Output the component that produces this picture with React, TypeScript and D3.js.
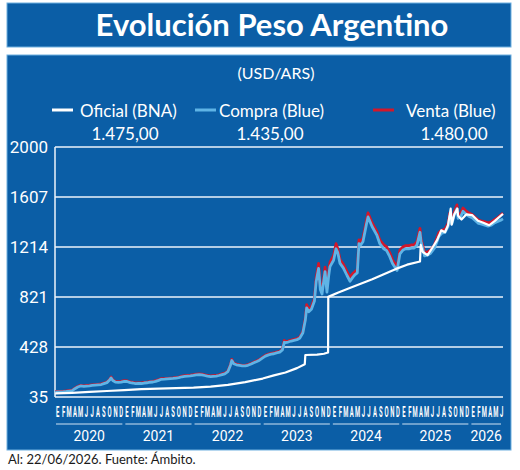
import * as d3 from "d3";

// --- data ---
const yTicks = [35, 428, 821, 1214, 1607, 2000];
const monthLetters = ["E", "F", "M", "A", "M", "J", "J", "A", "S", "O", "N", "D"];
const years = [2020, 2021, 2022, 2023, 2024, 2025, 2026];
const legendNames = ["Oficial (BNA)", "Compra (Blue)", "Venta (Blue)"];
const legendLast = ["1.475,00", "1.435,00", "1.480,00"];

const oficialDates = [
  "2020-01-02", "2020-04-01", "2020-07-01", "2020-10-01", "2021-01-01", "2021-04-01",
  "2021-07-01", "2021-10-01", "2022-01-01", "2022-04-01", "2022-07-01", "2022-10-01",
  "2023-01-01", "2023-03-01", "2023-05-01", "2023-07-01", "2023-08-11", "2023-08-14",
  "2023-10-15", "2023-11-20", "2023-12-12", "2023-12-13", "2024-02-01", "2024-04-01",
  "2024-06-01", "2024-08-01", "2024-10-01", "2024-12-01", "2025-02-01", "2025-04-10",
  "2025-04-14", "2025-04-25", "2025-05-20", "2025-06-15", "2025-07-10", "2025-07-31",
  "2025-08-20", "2025-09-05", "2025-09-19", "2025-09-24", "2025-10-08", "2025-10-24",
  "2025-10-28", "2025-11-15", "2025-12-10", "2026-01-10", "2026-02-10", "2026-03-10",
  "2026-04-10", "2026-05-10", "2026-06-22",
];
const oficialValues = [
  63, 68, 76, 82, 89, 97,
  101, 104, 108, 117, 130, 152,
  180, 205, 228, 262, 292, 365,
  368, 375, 385, 822, 855, 890,
  925, 960, 1000, 1040, 1075, 1100,
  1230, 1175, 1150, 1210, 1270, 1345,
  1330, 1385, 1515, 1390, 1470, 1515,
  1460, 1430, 1470, 1465, 1420, 1405,
  1385, 1420, 1475,
];

const blueDates = [
  "2020-01-02", "2020-01-15", "2020-02-01", "2020-02-15", "2020-03-01", "2020-03-15",
  "2020-04-01", "2020-04-15", "2020-04-30", "2020-05-15", "2020-06-01", "2020-06-15",
  "2020-07-01", "2020-07-15", "2020-08-01", "2020-08-15", "2020-09-01", "2020-09-15",
  "2020-10-01", "2020-10-15", "2020-10-23", "2020-11-01", "2020-11-15", "2020-12-01",
  "2020-12-15", "2021-01-01", "2021-01-15", "2021-02-01", "2021-02-15", "2021-03-01",
  "2021-03-15", "2021-04-01", "2021-04-15", "2021-05-01", "2021-05-15", "2021-06-01",
  "2021-06-15", "2021-07-01", "2021-07-15", "2021-08-01", "2021-08-15", "2021-09-01",
  "2021-09-15", "2021-10-01", "2021-10-15", "2021-11-01", "2021-11-15", "2021-12-01",
  "2021-12-15", "2022-01-01", "2022-01-15", "2022-02-01", "2022-02-15", "2022-03-01",
  "2022-03-15", "2022-04-01", "2022-04-15", "2022-05-01", "2022-05-15", "2022-06-01",
  "2022-06-15", "2022-07-01", "2022-07-15", "2022-07-22", "2022-08-01", "2022-08-15",
  "2022-09-01", "2022-09-15", "2022-10-01", "2022-10-15", "2022-11-01", "2022-11-15",
  "2022-12-01", "2022-12-15", "2023-01-01", "2023-01-15", "2023-02-01", "2023-02-15",
  "2023-03-01", "2023-03-15", "2023-04-01", "2023-04-15", "2023-04-25", "2023-05-01",
  "2023-05-15", "2023-06-01", "2023-06-15", "2023-07-01", "2023-07-15", "2023-08-01",
  "2023-08-14", "2023-08-21", "2023-09-01", "2023-09-15", "2023-10-01", "2023-10-10",
  "2023-10-23", "2023-11-01", "2023-11-10", "2023-11-26", "2023-12-06", "2023-12-15",
  "2023-12-22", "2024-01-10", "2024-01-23", "2024-02-01", "2024-02-13", "2024-03-01",
  "2024-03-21", "2024-04-06", "2024-04-20", "2024-05-01", "2024-05-14", "2024-05-23",
  "2024-06-01", "2024-06-13", "2024-07-01", "2024-07-10", "2024-07-31", "2024-08-26",
  "2024-09-10", "2024-10-01", "2024-10-16", "2024-11-01", "2024-11-16", "2024-12-10",
  "2024-12-25", "2025-01-10", "2025-01-25", "2025-02-10", "2025-02-25", "2025-03-10",
  "2025-03-25", "2025-04-10", "2025-04-16", "2025-05-04", "2025-05-20", "2025-06-05",
  "2025-06-25", "2025-07-18", "2025-08-01", "2025-08-20", "2025-09-05", "2025-09-14",
  "2025-09-25", "2025-10-08", "2025-10-22", "2025-10-28", "2025-11-10", "2025-11-23",
  "2025-12-10", "2025-12-25", "2026-01-10", "2026-01-25", "2026-02-13", "2026-02-25",
  "2026-03-10", "2026-04-04", "2026-04-20", "2026-05-10", "2026-05-25", "2026-06-10",
  "2026-06-22",
];
const compraValues = [
  74, 75, 76, 77, 79, 82,
  85, 100, 113, 122, 118, 121,
  123, 126, 128, 130, 133, 140,
  148, 168, 185, 165, 152, 150,
  152, 158, 157, 148, 145, 140,
  141, 141, 145, 147, 151, 153,
  158, 166, 174, 175, 177, 179,
  181, 184, 187, 194, 197, 199,
  201, 205, 209, 211, 209, 204,
  199, 195, 197, 199, 204, 211,
  217, 234, 285, 322, 296, 288,
  283, 279, 279, 284, 294, 304,
  314, 324, 342, 356, 366, 372,
  375, 382, 388, 405, 465, 462,
  467, 475, 480, 486, 496, 540,
  640, 735, 705, 725, 790, 940,
  1045, 880, 845, 1020, 860, 985,
  1060, 1110, 1200, 1170, 1085, 1050,
  990, 945, 975, 995, 1010, 1240,
  1230, 1255, 1390, 1450, 1375, 1305,
  1240, 1200, 1185, 1140, 1085, 1030,
  1160, 1190, 1200, 1200, 1205, 1205,
  1230, 1330, 1250, 1145, 1150, 1165,
  1205, 1295, 1320, 1330, 1375, 1455,
  1395, 1465, 1515, 1440, 1450, 1495,
  1470, 1455, 1445, 1425, 1400, 1395,
  1390, 1378, 1385, 1405, 1415, 1425,
  1435,
];
const ventaValues = [
  78, 79, 80, 81, 83, 86,
  89, 104, 118, 127, 123, 126,
  128, 131, 133, 135, 138, 145,
  153, 173, 192, 170, 157, 155,
  157, 163, 162, 153, 150, 145,
  146, 146, 150, 152, 156, 158,
  163, 171, 179, 180, 182, 184,
  186, 189, 192, 199, 202, 204,
  206, 210, 214, 216, 214, 209,
  204, 200, 202, 204, 209, 216,
  222, 239, 290, 330, 301, 293,
  288, 284, 284, 289, 299, 309,
  319, 329, 348, 362, 372, 378,
  381, 388, 394, 412, 480, 470,
  475, 483, 488, 494, 504, 550,
  655, 760, 725, 745, 810, 970,
  1085, 910, 870, 1055, 890, 1020,
  1095, 1145, 1240, 1200, 1115, 1080,
  1020, 975, 1005, 1020, 1035, 1270,
  1260, 1285, 1420, 1482, 1405, 1335,
  1270, 1230, 1215, 1170, 1115, 1055,
  1190, 1215, 1225, 1225, 1230, 1230,
  1255, 1360, 1275, 1170, 1175, 1190,
  1230, 1325, 1345, 1355, 1400, 1480,
  1420, 1490, 1545, 1465, 1475, 1520,
  1495, 1480, 1470, 1450, 1426, 1420,
  1415, 1403, 1410, 1430, 1445, 1465,
  1480,
];

const W = 520;
const H = 470;
const BLUE_BG = "#0b5ea6";
const COMPRA = "#5fb4e6";
const VENTA = "#d3172a";
const LABEL_FONT = "'Liberation Sans Narrow', 'Roboto', sans-serif";
const TEXT_FONT = "Lato, 'Open Sans', sans-serif";

const parse = d3.timeParse("%Y-%m-%d");
const startDate = parse("2020-01-01") as Date;
const endDate = parse("2026-06-22") as Date;

type Pt = { date: Date; value: number };

export default function App() {
  const plot = { left: 55, right: 503, top: 147, bottom: 397 };

  const x = d3.scaleTime().domain([startDate, endDate]).range([plot.left, plot.right]);
  const y = d3.scaleLinear().domain([35, 2000]).range([plot.bottom, plot.top]);

  const oficial: Pt[] = oficialDates.map((d, i) => ({ date: parse(d) as Date, value: oficialValues[i] }));
  const compra: Pt[] = blueDates.map((d, i) => ({ date: parse(d) as Date, value: compraValues[i] }));
  const venta: Pt[] = blueDates.map((d, i) => ({ date: parse(d) as Date, value: ventaValues[i] }));

  const line = d3
    .line<Pt>()
    .x((d) => x(d.date))
    .y((d) => y(d.value));

  const months = d3.timeMonth.range(startDate, endDate);

  // legend positions
  const legendLineX = [52, 195, 373];
  const legendTextX = [80, 219, 406];
  const legendValueX = [125, 270, 454];
  const legendColors = ["#ffffff", COMPRA, VENTA];

  return (
    <svg
      width={W}
      height={H}
      style={{ position: "absolute", left: 0, top: 0, background: "#ffffff" }}
    >
      {/* title box */}
      <rect x={7} y={3} width={504} height={44} fill={BLUE_BG} stroke="#6fb0e0" strokeWidth={1} />
      <text
        x={272}
        y={36}
        textAnchor="middle"
        fill="#ffffff"
        fontFamily={TEXT_FONT}
        fontWeight="bold"
        fontSize={31}
      >
        Evolución Peso Argentino
      </text>

      {/* chart panel */}
      <rect x={7} y={55} width={504} height={395} fill={BLUE_BG} stroke="#6fb0e0" strokeWidth={1} />
      <text x={276} y={79} textAnchor="middle" fill="#ffffff" fontFamily={TEXT_FONT} fontSize={16}>
        (USD/ARS)
      </text>

      {/* legend */}
      {legendNames.map((name, i) => (
        <g key={name}>
          <line
            x1={legendLineX[i]}
            x2={legendLineX[i] + 21}
            y1={110}
            y2={110}
            stroke={legendColors[i]}
            strokeWidth={3}
          />
          <text x={legendTextX[i]} y={117} fill="#ffffff" fontFamily={TEXT_FONT} fontSize={17}>
            {name}
          </text>
          <text
            x={legendValueX[i]}
            y={140}
            textAnchor="middle"
            fill="#ffffff"
            fontFamily={TEXT_FONT}
            fontSize={17}
          >
            {legendLast[i]}
          </text>
        </g>
      ))}

      {/* grid + y labels */}
      {yTicks.map((t) => (
        <g key={t}>
          <line x1={plot.left} x2={plot.right} y1={y(t)} y2={y(t)} stroke="#eef4fb" strokeWidth={1.5} />
          <text
            x={48}
            y={y(t) + 6}
            textAnchor="end"
            fill="#ffffff"
            fontFamily={LABEL_FONT}
            fontSize={17}
          >
            {t}
          </text>
        </g>
      ))}
      <line x1={plot.left} x2={plot.left} y1={plot.top} y2={plot.bottom} stroke="#eef4fb" strokeWidth={1.5} />

      {/* series */}
      <path d={line(venta) ?? ""} fill="none" stroke={VENTA} strokeWidth={2.8} strokeLinejoin="round" />
      <path d={line(compra) ?? ""} fill="none" stroke={COMPRA} strokeWidth={2.8} strokeLinejoin="round" />
      <path d={line(oficial) ?? ""} fill="none" stroke="#ffffff" strokeWidth={2.2} strokeLinejoin="round" />

      {/* month letters */}
      {months.map((m) => {
        const cx = x(d3.timeDay.offset(m, 14));
        return (
          <text
            key={m.toISOString()}
            transform={`translate(${cx},417) scale(0.42,1)`}
            textAnchor="middle"
            fill="#ffffff"
            fontFamily={LABEL_FONT}
            fontWeight="bold"
            fontSize={14}
          >
            {monthLetters[m.getMonth()]}
          </text>
        );
      })}

      {/* years */}
      {years.map((yr) => {
        const a = parse(`${yr}-01-01`) as Date;
        const nb = parse(`${yr + 1}-01-01`) as Date;
        const b = nb > endDate ? endDate : nb;
        const x0 = x(a) + 1;
        const x1 = x(b) - 2;
        return (
          <g key={yr}>
            <line x1={x0} x2={x1} y1={424} y2={424} stroke="#cfe2f3" strokeWidth={1} />
            <text
              x={(x0 + x1) / 2}
              y={441}
              textAnchor="middle"
              fill="#ffffff"
              fontFamily={LABEL_FONT}
              fontSize={14}
            >
              {yr}
            </text>
          </g>
        );
      })}

      {/* footer */}
      <text x={8} y={464} fill="#1a1a1a" fontFamily={TEXT_FONT} fontSize={13}>
        Al: 22/06/2026. Fuente: Ámbito.
      </text>
    </svg>
  );
}
